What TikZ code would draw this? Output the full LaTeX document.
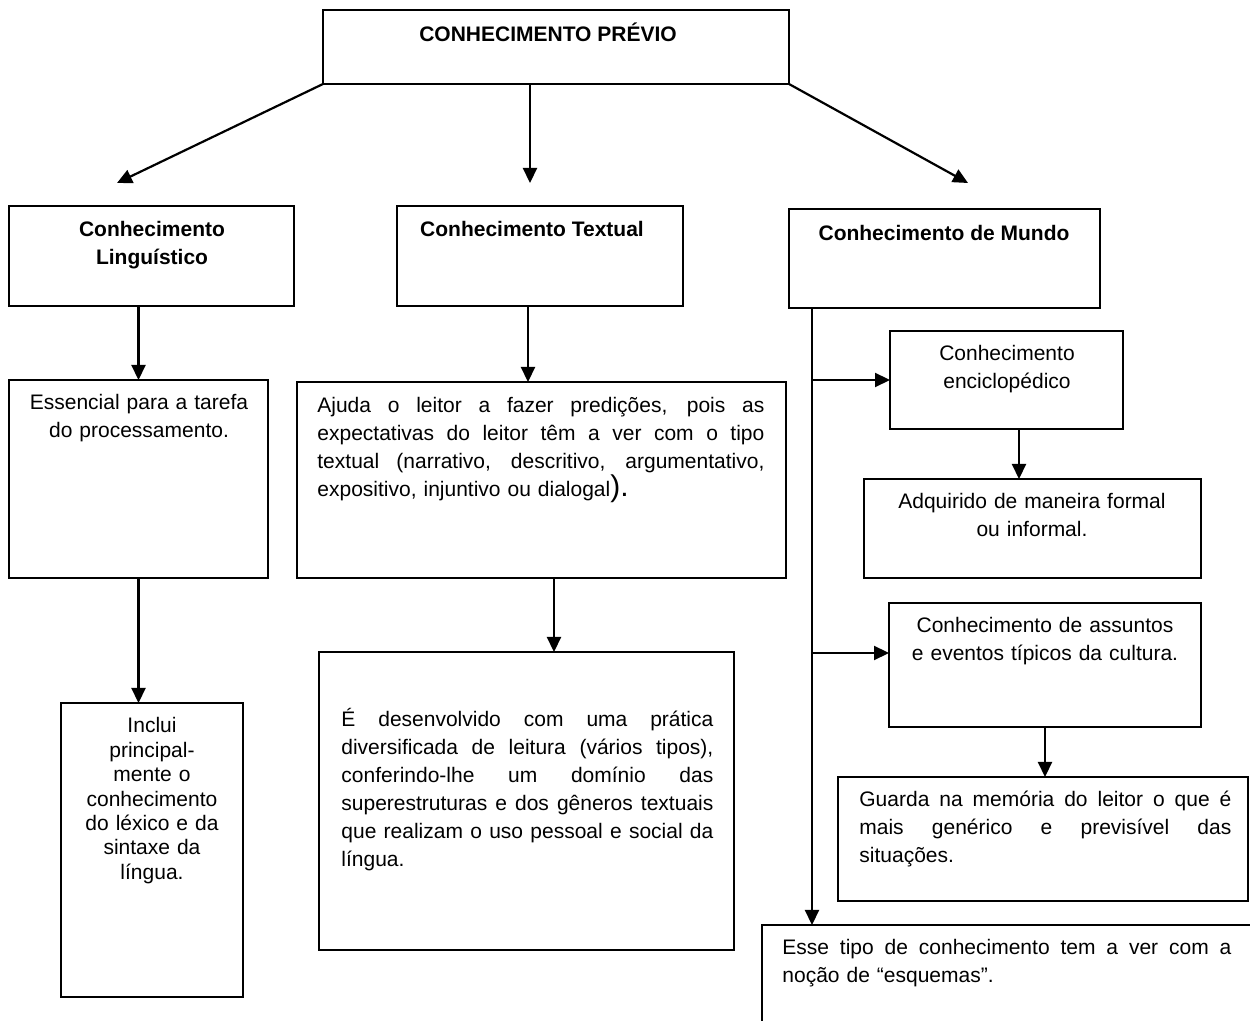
\documentclass[tikz,border=0pt]{standalone}
\usepackage{fontspec}
\setmainfont{Liberation Sans}
\usetikzlibrary{arrows.meta,calc}
\newcommand\jline[2]{\leavevmode\hbox to #1{\spaceskip=\fontdimen2\font plus 1fil\relax\xspaceskip=\spaceskip #2}}
\newcommand\mybox[5]{\node[box, minimum width=(#4-#2)*0.5pt, minimum height=(#5-#3)*0.5pt] (#1) at (#2,#3) {};}
\begin{document}
\begin{tikzpicture}[x=0.5pt,y=-0.5pt,
  box/.style={draw=black, line width=1.1pt, rectangle, inner sep=0pt, outer sep=0pt, anchor=north west},
  conn/.style={line width=1.1pt, -{Triangle[length=7.5pt,width=7pt]}},
  txt/.style={inner sep=0pt, text=black, font=\fontsize{10.5pt}{14pt}\selectfont},
  btxt/.style={txt, font=\fontsize{10.5pt}{14pt}\selectfont\bfseries},
  ctxt/.style={txt, align=center, anchor=base},
  jtxt/.style={txt, align=left, anchor=base west}
]
\useasboundingbox (0,0) rectangle (1250,1021);
\clip (0,0) rectangle (1250,1021);

% boxes
\mybox{top}{323}{10}{789}{84}
\mybox{ling}{9}{206}{294}{306}
\mybox{text}{397}{206}{683}{306}
\mybox{mundo}{789}{209}{1100}{308}
\mybox{ess}{9}{380}{268}{578}
\mybox{ajuda}{297}{382}{786}{578}
\mybox{incl}{61}{703}{243}{997}
\mybox{E}{319}{652}{734}{950}
\mybox{encic}{890}{331}{1123}{429}
\mybox{adq}{864}{479}{1201}{578}
\mybox{cult}{889}{603}{1201}{727}
\mybox{guarda}{838}{777}{1248}{901}
\mybox{esse}{762}{925}{1300}{1080}

% texts
\node[btxt, anchor=base] (tTop) at (548,42) {CONHECIMENTO PRÉVIO};
\node[btxt, align=center, anchor=base, text width=135pt] (tLing) at (152,237) {Conhecimento\\Linguístico};
\node[btxt, anchor=base] (tText) at (532,237) {Conhecimento Textual};
\node[btxt, anchor=base] (tMundo) at (944,241) {Conhecimento de Mundo};
\node[ctxt, text width=125pt] (tEss) at (139,410) {Essencial para a tarefa\\do processamento.};
\node[jtxt, text width=223.5pt] (tAjuda) at (317,413) {\jline{223.5pt}{Ajuda o leitor a fazer predições, pois as}\\
\jline{223.5pt}{expectativas do leitor têm a ver com o tipo}\\
\jline{223.5pt}{textual (narrativo, descritivo, argumentativo,}\\
expositivo, injuntivo ou dialogal{\fontsize{15pt}{14pt}\selectfont).}};
\node[jtxt, text width=186pt] (tE) at (341,727) {\jline{186pt}{É desenvolvido com uma prática}\\
\jline{186pt}{diversificada de leitura (vários tipos),}\\
\jline{186pt}{conferindo-lhe um domínio das}\\
\jline{186pt}{superestruturas e dos gêneros textuais}\\
\jline{186pt}{que realizam o uso pessoal e social da}\\
língua.};
\node[ctxt, text width=80pt, font=\fontsize{10.5pt}{12.2pt}\selectfont] (tIncl) at (152,733) {Inclui\\principal-\\mente o\\conhecimento\\do léxico e da\\sintaxe da\\língua.};
\node[ctxt, text width=110pt] (tEnc) at (1007,361) {Conhecimento\\enciclopédico};
\node[ctxt, text width=165pt] (tAdq) at (1032,509) {Adquirido de maneira formal\\ou informal.};
\node[ctxt, text width=150pt] (tCult) at (1045,633) {Conhecimento de assuntos\\e eventos típicos da cultura.};
\node[jtxt, text width=186pt] (tGuarda) at (859,807) {\jline{186pt}{Guarda na memória do leitor o que é}\\
\jline{186pt}{mais genérico e previsível das}\\
situações.};
\node[jtxt, text width=224.5pt] (tEsse) at (782,955) {\jline{224.5pt}{Esse tipo de conhecimento tem a ver com a}\\
noção de “esquemas”.};

% free ends and guide coordinates
\coordinate (a1) at (117,183);
\coordinate (a2) at (530,183);
\coordinate (a3) at (968,183);
\coordinate (xt) at (528,0);
\coordinate (xa) at (554,0);
\coordinate (xm) at (812,0);
\coordinate (xe) at (1019,0);
\coordinate (yc) at (0,653);

% connectors
\draw[conn] (top.south west) -- (a1);
\draw[conn] (top.south -| a2) -- (a2);
\draw[conn] (top.south east) -- (a3);
\draw[conn] (ling.south -| ess.north) -- (ess.north);
\draw[conn] (ess.south) -- (incl.north -| ess.south);
\draw[conn] (text.south -| xt) -- (ajuda.north -| xt);
\draw[conn] (ajuda.south -| xa) -- (E.north -| xa);
\draw[conn] (mundo.south -| xm) -- (esse.north -| xm);
\draw[conn] (encic.west -| xm) -- (encic.west);
\draw[conn] (xm |- yc) -- (cult.west |- yc);
\draw[conn] (encic.south -| xe) -- (adq.north -| xe);
\draw[conn] (cult.south) -- (guarda.north -| cult.south);
\end{tikzpicture}
\end{document}
